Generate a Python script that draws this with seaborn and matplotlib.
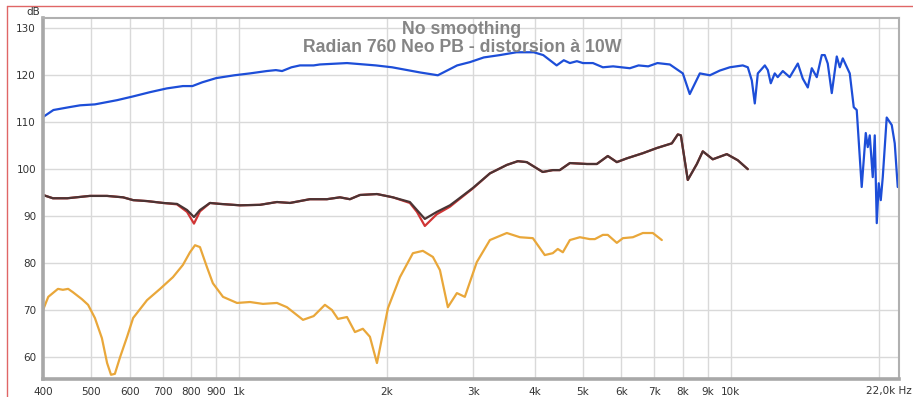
import numpy as np
import pandas as pd
import matplotlib
matplotlib.use("Agg")
import matplotlib.pyplot as plt
from matplotlib.lines import Line2D
import seaborn as sns

# ---------------- data ----------------
fund_freq = [400, 420, 452, 476, 510, 522, 566, 610, 660, 714, 770, 805, 843, 900, 980,
             1054, 1140, 1190, 1225, 1280, 1332, 1420, 1462, 1660, 1900, 2050, 2337, 2540,
             2780, 2952, 3150, 3396, 3670, 3980, 4160, 4430, 4580, 4713, 4870, 5010, 5250,
             5500, 5770, 6240, 6500, 6800, 7100, 7525, 7996, 8260, 8660, 9077, 9507, 9963,
             10588, 10840, 11045, 11200, 11360, 11740, 11905, 12070, 12296, 12470, 12770,
             13190, 13700, 14020, 14355, 14625, 14970, 15325, 15540, 15760, 16060, 16440,
             16675, 16910, 17470, 17800, 18050, 18475, 18830, 19005, 19185, 19455, 19640,
             19825, 20010, 20200, 20390, 20770, 21265, 21565, 21870]
fund_db = [111.1, 112.6, 113.2, 113.6, 113.8, 114.0, 114.7, 115.5, 116.4, 117.2, 117.7,
           117.7, 118.5, 119.4, 120.0, 120.4, 120.9, 121.1, 120.9, 121.7, 122.1, 122.1,
           122.3, 122.6, 122.1, 121.7, 120.6, 120.0, 122.1, 122.8, 123.8, 124.3, 124.9,
           124.9, 124.3, 122.1, 123.2, 122.6, 123.0, 122.6, 122.6, 121.7, 121.9, 121.5,
           122.1, 121.9, 122.6, 122.3, 120.4, 116.0, 120.4, 120.0, 121.0, 121.7, 122.1,
           121.7, 118.9, 114.0, 120.4, 122.1, 121.1, 118.3, 120.4, 119.6, 120.9, 119.6,
           122.5, 119.3, 117.4, 121.5, 119.6, 124.3, 124.3, 122.5, 116.2, 124.0, 121.7,
           123.6, 120.4, 113.2, 112.6, 96.2, 107.7, 104.7, 107.2, 98.3, 107.2, 88.5, 97.0,
           93.4, 98.3, 111.0, 109.4, 105.5, 96.2]

h2_freq = [400, 419, 448, 498, 540, 582, 610, 651, 702, 749, 785, 811, 834, 874, 916, 1006,
           1104, 1196, 1271, 1395, 1511, 1606, 1683, 1764, 1910, 2058, 2228, 2303, 2390,
           2528, 2688, 2777, 2993, 3241, 3508, 3694, 3851, 4150, 4350, 4495, 4713, 5104,
           5347, 5628, 5871, 6152, 6632, 7080, 7596, 7812, 7924, 8184, 8540, 8780, 9200,
           9826, 10342, 10840]
h2_db = [94.5, 93.8, 93.8, 94.3, 94.3, 94.0, 93.4, 93.2, 92.8, 92.6, 91.3, 89.8, 91.3, 92.8,
         92.6, 92.3, 92.4, 93.0, 92.8, 93.6, 93.6, 94.0, 93.6, 94.5, 94.7, 94.0, 93.0, 91.3,
         89.4, 90.9, 92.3, 93.4, 96.0, 99.1, 100.9, 101.7, 101.5, 99.4, 99.8, 99.8, 101.3,
         101.1, 101.1, 102.8, 101.5, 102.3, 103.4, 104.5, 105.5, 107.4, 107.2, 97.7, 101.1,
         103.8, 102.1, 103.2, 101.9, 100.0]
h2b_db = [94.5, 93.8, 93.8, 94.3, 94.3, 94.0, 93.4, 93.2, 92.8, 92.5, 90.9, 88.4, 91.0, 92.8,
          92.6, 92.3, 92.4, 93.0, 92.8, 93.6, 93.6, 94.0, 93.6, 94.5, 94.7, 94.0, 92.8, 90.9,
          87.9, 90.4, 92.0, 93.2, 95.9, 99.1, 100.9, 101.7, 101.5, 99.4, 99.8, 99.8, 101.3,
          101.1, 101.1, 102.8, 101.5, 102.3, 103.4, 104.5, 105.5, 107.4, 107.2, 97.7, 101.1,
          103.8, 102.1, 103.2, 101.9, 100.0]

h3_freq = [400, 410, 429, 439, 450, 460, 480, 494, 510, 527, 540, 550, 560, 574, 593, 610,
           651, 692, 735, 770, 796, 815, 834, 862, 886, 929, 992, 1054, 1120, 1196, 1253,
           1351, 1420, 1497, 1547, 1591, 1660, 1723, 1788, 1848, 1910, 2011, 2127, 2260,
           2368, 2482, 2565, 2662, 2777, 2882, 3048, 3241, 3508, 3730, 3963, 4190, 4350,
           4453, 4560, 4713, 4939, 5174, 5297, 5500, 5628, 5871, 6040, 6330, 6632, 6948, 7248]
h3_db = [70.0, 72.8, 74.5, 74.3, 74.5, 73.8, 72.3, 71.1, 68.3, 64.0, 58.7, 56.2, 56.4, 60.0,
         64.3, 68.3, 72.1, 74.5, 77.0, 79.6, 82.3, 83.8, 83.4, 79.1, 75.7, 72.8, 71.5, 71.7,
         71.3, 71.5, 70.6, 67.9, 68.7, 71.1, 70.0, 68.1, 68.5, 65.3, 66.0, 64.3, 58.7, 70.4,
         77.0, 82.1, 82.6, 81.3, 78.5, 70.6, 73.6, 72.8, 80.2, 84.9, 86.4, 85.5, 85.3, 81.7,
         82.1, 83.0, 82.3, 84.9, 85.5, 85.1, 85.1, 86.0, 86.0, 84.3, 85.3, 85.5, 86.4, 86.4,
         84.9]

x_ticks = [400, 500, 600, 700, 800, 900, 1000, 2000, 3000, 4000, 5000, 6000, 7000, 8000,
           9000, 10000, 22000]
x_labels = ["400", "500", "600", "700", "800", "900", "1k", "2k", "3k", "4k", "5k", "6k",
            "7k", "8k", "9k", "10k", ""]
end_label = "22,0k Hz"
y_ticks = [60, 70, 80, 90, 100, 110, 120, 130]
title_lines = ["No smoothing", "Radian 760 Neo PB - distorsion à 10W"]

# ---------------- figure ----------------
sns.set_style("white")
plt.rcParams['font.family'] = ['DejaVu Sans']

W, H = 913, 397
fig = plt.figure(figsize=(W / 100, H / 100), dpi=100)
ax = fig.add_axes([43 / W, 1 - 379 / H, (899 - 43) / W, (379 - 18) / H])

c_blue = "#1d4ed8"
c_brown = "#4b3434"
c_red = "#d03535"
c_orange = "#e9a73a"

df_f = pd.DataFrame({"f": fund_freq, "db": fund_db})
df_2 = pd.DataFrame({"f": h2_freq, "db": h2_db})
df_2b = pd.DataFrame({"f": h2_freq, "db": h2b_db})
df_3 = pd.DataFrame({"f": h3_freq, "db": h3_db})

kw = dict(x="f", y="db", sort=False, estimator=None, ax=ax)
sns.lineplot(data=df_3, color=c_orange, lw=1.6, **kw)
sns.lineplot(data=df_2b, color=c_red, lw=1.6, **kw)
sns.lineplot(data=df_2, color=c_brown, lw=1.6, **kw)
sns.lineplot(data=df_f, color=c_blue, lw=1.6, **kw)

ax.set_xscale("log")
ax.set_xlim(400, 22000)
ax.set_ylim(55.3, 132.2)
ax.set_xticks(x_ticks)
ax.set_xticklabels(x_labels)
ax.set_xticks([20000], minor=True)
ax.xaxis.set_minor_formatter(matplotlib.ticker.NullFormatter())
ax.set_yticks(y_ticks)
ax.set_yticklabels([str(v) for v in y_ticks])
ax.set_xlabel("")
ax.set_ylabel("")

ax.grid(True, which="both", color="#d9d9d9", lw=1.0, zorder=0)
ax.set_axisbelow(True)
ax.tick_params(axis="both", which="both", length=0, labelsize=7.5, colors="#333333")
ax.tick_params(axis="x", pad=6)
ax.tick_params(axis="y", pad=5)

for s in ["left", "bottom"]:
    ax.spines[s].set_color("#a8a8a8")
    ax.spines[s].set_linewidth(2.6)
for s in ["top", "right"]:
    ax.spines[s].set_color("#b0b0b0")
    ax.spines[s].set_linewidth(1.5)

# end-of-axis frequency label
fig.text(912 / W, 1 - 391 / H, end_label, ha="right", va="center", fontsize=7.5,
         color="#333333")

# dB unit label
fig.text(33 / W, 1 - 12 / H, "dB", ha="center", va="center", fontsize=7.5, color="#333333")

# title lines
fig.text(462 / W, 1 - 29 / H, title_lines[0], ha="center", va="center",
         fontsize=12.7, fontweight="bold", color="#858585", family="Liberation Sans")
fig.text(462 / W, 1 - 48 / H, title_lines[1], ha="center", va="center",
         fontsize=12.7, fontweight="bold", color="#858585", family="Liberation Sans")

# red outer frame (top and left)
fig.add_artist(Line2D([7 / W, 1], [1 - 6 / H, 1 - 6 / H], color="#e06666", lw=1.0))
fig.add_artist(Line2D([7 / W, 7 / W], [0, 1 - 6 / H], color="#e06666", lw=1.0))

fig.savefig("out.png", dpi=100)
